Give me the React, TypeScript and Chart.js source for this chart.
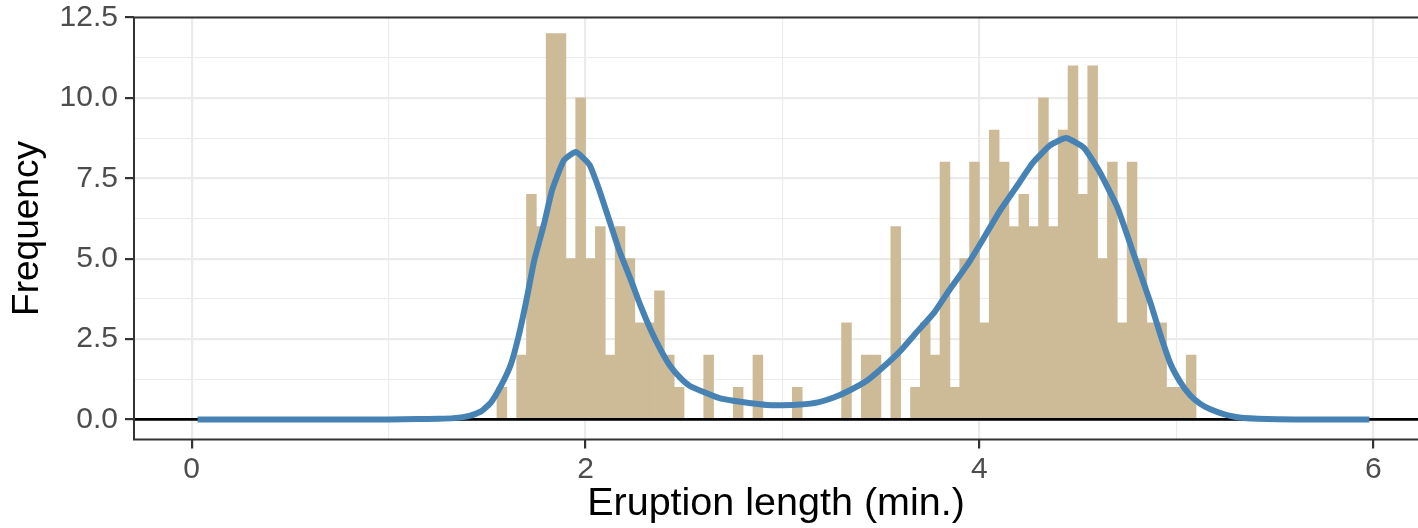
import React, { useEffect, useRef } from 'react';
import { Chart, registerables } from 'chart.js';

Chart.register(...registerables);

// Histogram bins (bin centres, width 0.05) and counts
const binCenters = [
  1.575, 1.625, 1.675, 1.725, 1.775, 1.825, 1.875, 1.925, 1.975, 2.025,
  2.075, 2.125, 2.175, 2.225, 2.275, 2.325, 2.375, 2.425, 2.475, 2.525,
  2.575, 2.625, 2.675, 2.725, 2.775, 2.825, 2.875, 2.925, 2.975, 3.025,
  3.075, 3.125, 3.175, 3.225, 3.275, 3.325, 3.375, 3.425, 3.475, 3.525,
  3.575, 3.625, 3.675, 3.725, 3.775, 3.825, 3.875, 3.925, 3.975, 4.025,
  4.075, 4.125, 4.175, 4.225, 4.275, 4.325, 4.375, 4.425, 4.475, 4.525,
  4.575, 4.625, 4.675, 4.725, 4.775, 4.825, 4.875, 4.925, 4.975, 5.025,
  5.075,
];
const binCounts = [
  1, 0, 2, 7, 6, 12, 12, 5, 10, 5,
  6, 2, 6, 5, 3, 3, 4, 2, 1, 0,
  0, 2, 0, 0, 1, 0, 2, 0, 0, 0,
  1, 0, 0, 0, 0, 3, 0, 2, 2, 0,
  6, 0, 1, 3, 2, 8, 1, 5, 8, 3,
  9, 8, 6, 7, 6, 10, 6, 9, 11, 7,
  11, 5, 8, 3, 8, 5, 3, 3, 1, 1,
  2,
];

// Scaled density curve
const curveX = [
  0.03, 0.5, 1.0, 1.15, 1.25, 1.33, 1.41, 1.47, 1.52, 1.57,
  1.62, 1.66, 1.70, 1.74, 1.79, 1.83, 1.89, 1.95, 2.02, 2.07,
  2.12, 2.17, 2.23, 2.28, 2.33, 2.38, 2.43, 2.48, 2.53, 2.60,
  2.68, 2.75, 2.84, 2.92, 3.00, 3.09, 3.18, 3.26, 3.34, 3.43,
  3.51, 3.60, 3.68, 3.77, 3.85, 3.94, 4.02, 4.10, 4.19, 4.27,
  4.36, 4.44, 4.53, 4.61, 4.70, 4.78, 4.87, 4.92, 4.97, 5.02,
  5.07, 5.12, 5.17, 5.24, 5.32, 5.46, 5.60, 5.98,
];
const curveY = [
  0, 0, 0, 0.01, 0.02, 0.04, 0.11, 0.25, 0.53, 1.04,
  1.70, 2.59, 3.72, 4.96, 6.10, 7.13, 8.06, 8.32, 7.92, 7.13,
  6.20, 5.27, 4.34, 3.52, 2.80, 2.18, 1.66, 1.30, 1.04, 0.85,
  0.66, 0.58, 0.50, 0.45, 0.44, 0.46, 0.53, 0.68, 0.90, 1.21,
  1.62, 2.14, 2.70, 3.32, 4.05, 4.82, 5.62, 6.45, 7.25, 7.97,
  8.53, 8.75, 8.45, 7.70, 6.60, 5.20, 3.60, 2.61, 1.73, 1.16,
  0.75, 0.49, 0.32, 0.165, 0.06, 0.01, 0, 0,
];

const xMajorTicks = [0, 2, 4, 6];
const xMajorLabels = ['0', '2', '4', '6'];
const xMinorTicks = [1, 3, 5];
const yMajorTicks = [0, 2.5, 5, 7.5, 10, 12.5];
const yMajorLabels = ['0.0', '2.5', '5.0', '7.5', '10.0', '12.5'];
const yMinorTicks = [1.25, 3.75, 6.25, 8.75, 11.25];
const referenceLineY = 0;

const xTitle = 'Eruption length (min.)';
const yTitle = 'Frequency';

const FONT = "'Liberation Sans', Arial, Helvetica, sans-serif";
const W = 1418;
const H = 528;

export default function App() {
  const ref = useRef<HTMLCanvasElement | null>(null);

  useEffect(() => {
    document.body.style.margin = '0';
    const canvas = ref.current;
    if (!canvas) return;

    const isMajor = (arr: number[], v: number) => arr.some((m) => Math.abs(m - v) < 1e-9);

    const framePlugin = {
      id: 'frame',
      beforeDatasetDraw(chart: any, args: any) {
        if (args.index !== 1) return;
        const { ctx, chartArea, scales } = chart;
        const y = scales.y.getPixelForValue(referenceLineY);
        ctx.save();
        ctx.strokeStyle = '#000000';
        ctx.lineWidth = 2.6;
        ctx.beginPath();
        ctx.moveTo(chartArea.left, y);
        ctx.lineTo(chartArea.right, y);
        ctx.stroke();
        ctx.restore();
      },
      afterDatasetsDraw(chart: any) {
        const { ctx, chartArea } = chart;
        ctx.save();
        ctx.strokeStyle = '#333333';
        ctx.lineWidth = 2;
        ctx.beginPath();
        ctx.moveTo(chartArea.right + 5, chartArea.top);
        ctx.lineTo(chartArea.left, chartArea.top);
        ctx.lineTo(chartArea.left, chartArea.bottom);
        ctx.lineTo(chartArea.right + 5, chartArea.bottom);
        ctx.stroke();
        ctx.restore();
      },
    };

    const chart = new Chart(canvas, {
      type: 'bar',
      data: {
        datasets: [
          {
            type: 'bar',
            data: binCenters.map((x, i) => ({ x, y: binCounts[i] })),
            backgroundColor: '#CDBB97',
            borderWidth: 0,
            barPercentage: 1.0,
            categoryPercentage: 1.0,
            order: 2,
          } as any,
          {
            type: 'line',
            data: curveX.map((x, i) => ({ x, y: curveY[i] })),
            borderColor: '#4682B4',
            borderWidth: 6,
            pointRadius: 0,
            tension: 0.15,
            fill: false,
            borderCapStyle: 'butt',
            borderJoinStyle: 'round',
            order: 0,
          } as any,
        ],
      },
      options: {
        animation: false,
        responsive: false,
        devicePixelRatio: 1,
        layout: { padding: { top: 17.5, left: 0, right: 0, bottom: 0 } },
        plugins: {
          legend: { display: false },
          tooltip: { enabled: false },
        },
        scales: {
          x: {
            type: 'linear',
            min: -0.293,
            max: 6.227,
            offset: false,
            afterBuildTicks: (scale: any) => {
              scale.ticks = [...xMajorTicks, ...xMinorTicks]
                .sort((a, b) => a - b)
                .map((v) => ({ value: v }));
            },
            afterFit: (scale: any) => {
              scale.height = 88.5;
              scale.paddingLeft = 0;
              scale.paddingRight = 0;
            },
            ticks: {
              autoSkip: false,
              maxRotation: 0,
              color: '#4D4D4D',
              font: { family: FONT, size: 30 },
              padding: 3,
              callback: (v: any) => {
                const i = xMajorTicks.findIndex((m) => Math.abs(m - Number(v)) < 1e-9);
                return i >= 0 ? xMajorLabels[i] : '';
              },
            },
            grid: {
              offset: false,
              color: '#EBEBEB',
              lineWidth: (ctx: any) => (isMajor(xMajorTicks, ctx.tick?.value) ? 2.2 : 1.1),
              tickColor: (ctx: any) => (isMajor(xMajorTicks, ctx.tick?.value) ? '#333333' : 'rgba(0,0,0,0)'),
              tickWidth: 2.2,
              tickLength: 9,
              drawOnChartArea: true,
            },
            border: { display: false },
            title: {
              display: true,
              text: xTitle,
              color: '#000000',
              font: { family: FONT, size: 39.5 },
              padding: { top: 0, bottom: 0 },
            },
          },
          y: {
            type: 'linear',
            min: -0.625,
            max: 12.5,
            afterBuildTicks: (scale: any) => {
              scale.ticks = [...yMajorTicks, ...yMinorTicks]
                .sort((a, b) => a - b)
                .map((v) => ({ value: v }));
            },
            afterFit: (scale: any) => {
              scale.width = 134;
              scale.paddingTop = 0;
              scale.paddingBottom = 0;
            },
            ticks: {
              autoSkip: false,
              color: '#4D4D4D',
              font: { family: FONT, size: 30 },
              padding: 7,
              callback: (v: any) => {
                const i = yMajorTicks.findIndex((m) => Math.abs(m - Number(v)) < 1e-9);
                return i >= 0 ? yMajorLabels[i] : '';
              },
            },
            grid: {
              offset: false,
              color: '#EBEBEB',
              lineWidth: (ctx: any) => (isMajor(yMajorTicks, ctx.tick?.value) ? 2.2 : 1.1),
              tickColor: (ctx: any) => (isMajor(yMajorTicks, ctx.tick?.value) ? '#333333' : 'rgba(0,0,0,0)'),
              tickWidth: 2.2,
              tickLength: 9,
            },
            border: { display: false },
            title: {
              display: true,
              text: yTitle,
              color: '#000000',
              font: { family: FONT, size: 37 },
              padding: { top: 6, bottom: 0 },
            },
          },
        },
      } as any,
      plugins: [framePlugin],
    });

    return () => {
      chart.destroy();
    };
  }, []);

  return (
    <div style={{ width: W, height: H, overflow: 'hidden' }}>
      <canvas ref={ref} width={W} height={H} style={{ display: 'block', width: W, height: H }} />
    </div>
  );
}
